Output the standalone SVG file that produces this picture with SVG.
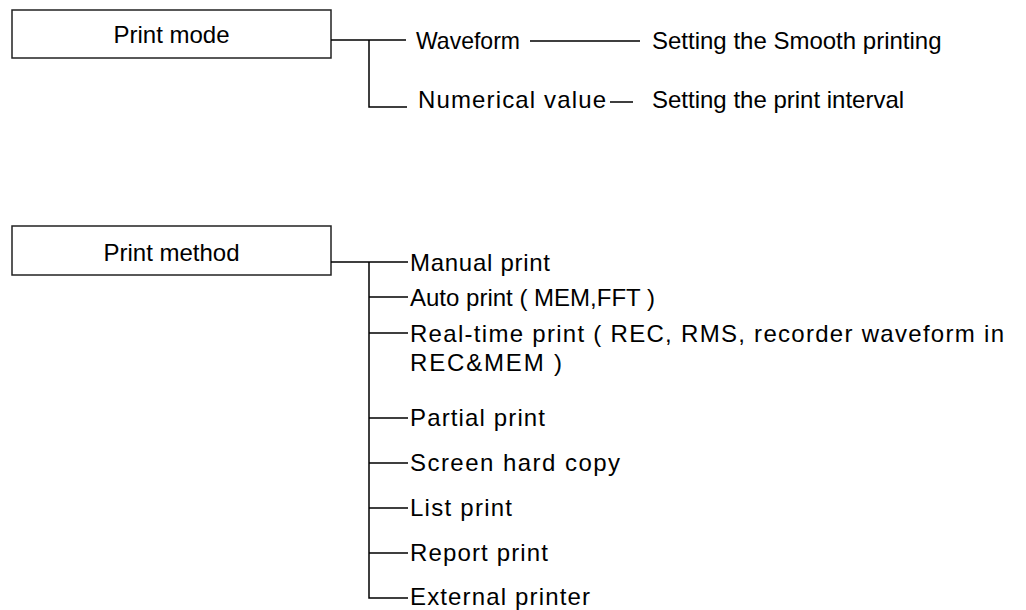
<svg xmlns="http://www.w3.org/2000/svg" width="1026" height="610" viewBox="0 0 1026 610">
<style>
.t{font-family:"Liberation Sans",Arial,sans-serif;font-size:24px;fill:#000}
.m{text-anchor:middle}
.box{fill:#fff;stroke:#222;stroke-width:1.5}
.ln{stroke:#000;stroke-width:1.5;fill:none}
</style>
<rect width="1026" height="610" fill="#fff"/>
<g id="print-mode">
<rect class="box" x="12" y="10" width="319" height="48"/>
<text class="t m" x="171.5" y="43">Print mode</text>
</g>
<g id="waveform"><text class="t" x="416" y="49" textLength="104" lengthAdjust="spacingAndGlyphs">Waveform</text></g>
<g id="smooth"><text class="t" x="652" y="49">Setting the Smooth printing</text></g>
<g id="numerical"><text class="t" x="418" y="108" textLength="188" lengthAdjust="spacing">Numerical value</text></g>
<g id="interval"><text class="t" x="652" y="108">Setting the print interval</text></g>
<g id="print-method">
<rect class="box" x="12" y="226" width="319" height="49"/>
<text class="t m" x="171.5" y="261">Print method</text>
</g>
<g id="manual"><text class="t" x="410" y="271" textLength="140" lengthAdjust="spacing">Manual print</text></g>
<g id="auto"><text class="t" x="410" y="306">Auto print ( MEM,FFT )</text></g>
<g id="realtime"><text class="t" x="410" y="342" textLength="594" lengthAdjust="spacing">Real-time print ( REC, RMS, recorder waveform in</text><text class="t" x="410" y="371" textLength="152" lengthAdjust="spacing">REC&amp;MEM )</text></g>
<g id="partial"><text class="t" x="410" y="426" textLength="135" lengthAdjust="spacing">Partial print</text></g>
<g id="screen"><text class="t" x="410" y="471" textLength="210" lengthAdjust="spacing">Screen hard copy</text></g>
<g id="list"><text class="t" x="410" y="516" textLength="102" lengthAdjust="spacing">List print</text></g>
<g id="report"><text class="t" x="410" y="561" textLength="138" lengthAdjust="spacing">Report print</text></g>
<g id="external"><text class="t" x="410" y="605" textLength="180" lengthAdjust="spacing">External printer</text></g>
<g id="connectors">
<path class="ln" d="M331 40H406M369 40V107H407M530 41H640M610 102H633"/>
<path class="ln" d="M331 262H408M369 262V598H408M369 297H408M369 333H408M369 418H408M369 463H408M369 508H408M369 553H408"/>
</g>
</svg>
